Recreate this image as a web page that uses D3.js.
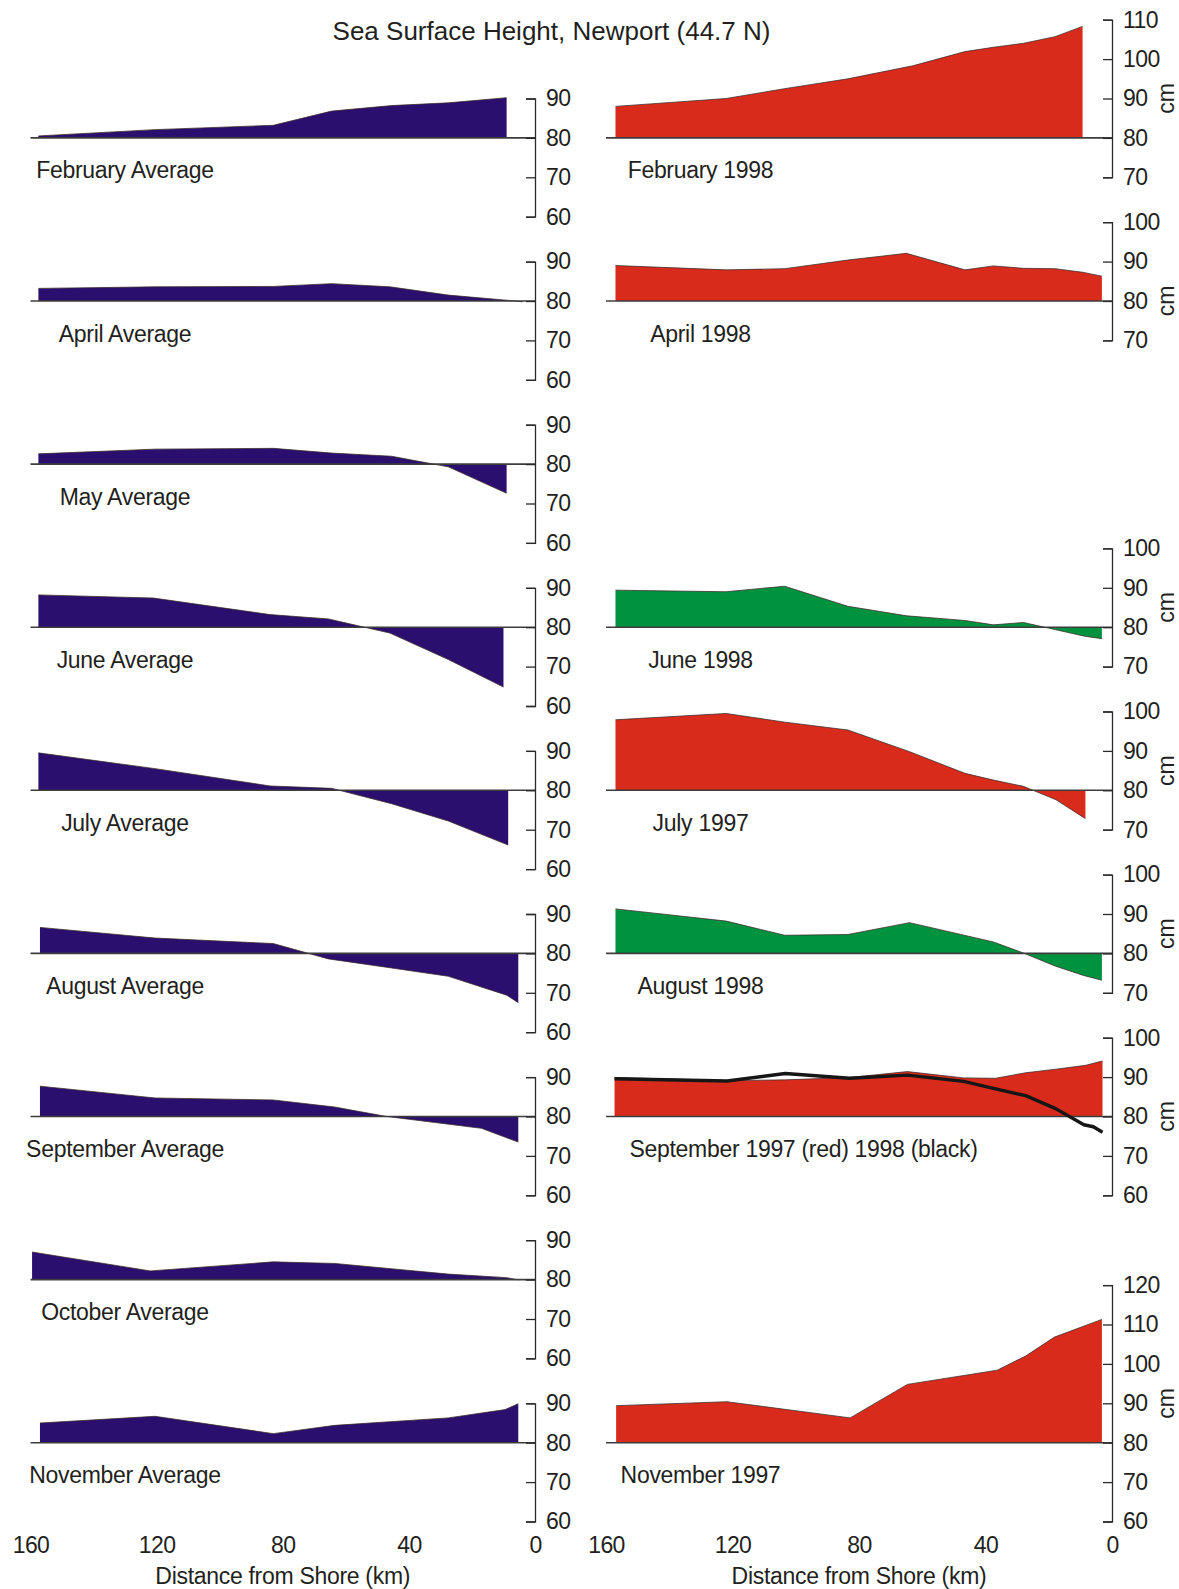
<!DOCTYPE html>
<html>
<head>
<meta charset="utf-8">
<script src="https://cdn.jsdelivr.net/npm/d3@7"></script>
<style>
  html, body { margin: 0; padding: 0; background: #fff; }
  svg text { font-family: "Liberation Sans", Arial, Helvetica, sans-serif; fill: #231f20; }
</style>
</head>
<body>
<svg id="chart" width="1179" height="1589"></svg>
<script>
// Sea surface height (cm) against distance from shore (km), Newport line 44.7 N.
// Each profile: distances (km) and heights (cm).

// Monthly climatology (left column)
const febAvgKm = [157.5, 120.5, 83, 64.5, 45.5, 27.5, 9];
const febAvgCm = [80.5, 82.1, 83.2, 86.8, 88.2, 88.9, 90.2];
const aprAvgKm = [157.5, 120.5, 83, 64.5, 46, 27.5, 9, 4];
const aprAvgCm = [83.2, 83.6, 83.7, 84.4, 83.6, 81.5, 80.2, 79.8];
const mayAvgKm = [157.5, 120.5, 83, 64.5, 45.5, 27.5, 9];
const mayAvgCm = [82.6, 83.8, 84.0, 82.8, 82.0, 79.3, 72.6];
const junAvgKm = [157.5, 121, 84, 65.5, 46, 27.5, 10];
const junAvgCm = [88.2, 87.4, 83.2, 82.1, 78.5, 71.8, 64.8];
const julAvgKm = [157.5, 120.5, 84, 64.5, 45.5, 27.5, 8.5];
const julAvgCm = [89.5, 85.5, 81.1, 80.5, 76.6, 72.2, 66.1];
const augAvgKm = [157, 120.5, 83, 65.5, 45.5, 27.5, 9, 5.3];
const augAvgCm = [86.6, 83.9, 82.5, 78.6, 76.3, 74.2, 69.4, 67.5];
const sepAvgKm = [157, 120.5, 83, 63.5, 47, 17, 5.3];
const sepAvgCm = [87.7, 84.7, 84.2, 82.4, 80.0, 77.0, 73.5];
const octAvgKm = [159.5, 122, 83, 63.5, 27.5, 9, 5];
const octAvgCm = [87.0, 82.2, 84.5, 84.1, 81.4, 80.5, 79.9];
const novAvgKm = [157, 120.5, 83, 63.5, 27.5, 9.5, 5.3];
const novAvgCm = [85.0, 86.7, 82.3, 84.4, 86.3, 88.4, 89.9];

// Individual months, 1997-98 El Nino (right column)
const feb98Km = [157, 122, 103.5, 83.5, 63, 46.5, 37.5, 28, 18, 9.3];
const feb98Cm = [88.0, 90.0, 92.5, 95.0, 98.3, 101.9, 103.0, 104.0, 105.7, 108.3];
const apr98Km = [157, 122, 103.5, 83.5, 65, 46.5, 37.5, 28, 18, 9.3, 3.2];
const apr98Cm = [89.0, 87.9, 88.2, 90.4, 92.1, 87.9, 88.9, 88.3, 88.2, 87.3, 86.3];
const jun98Km = [157, 122, 103.5, 83.5, 65, 46.5, 37.5, 28, 18, 8.6, 3.2];
const jun98Cm = [89.4, 89.0, 90.4, 85.3, 82.9, 81.7, 80.6, 81.2, 79.4, 77.7, 77.1];
const jul97Km = [157, 122, 103.5, 83.5, 64, 46.5, 37.5, 28, 17.7, 8.4];
const jul97Cm = [97.9, 99.5, 97.3, 95.3, 89.8, 84.3, 82.6, 81.0, 77.6, 72.8];
const aug98Km = [157, 122, 103.5, 83.5, 64, 37.5, 28, 18, 9, 3.2];
const aug98Cm = [91.3, 88.2, 84.6, 84.8, 87.8, 82.9, 80.1, 76.8, 74.4, 73.2];
const sep97Km = [157.3, 121.7, 103.3, 83, 64.7, 46.9, 36.8, 27.3, 17.8, 8.3, 3.0];
const sep97Cm = [89.9, 89.1, 89.3, 89.9, 91.4, 89.8, 89.7, 91.1, 92.0, 93.0, 94.1];
const sep98Km = [157.3, 121.7, 103.3, 83, 64.7, 46.9, 36.8, 27.3, 17.8, 8.9, 5.9, 3.0];
const sep98Cm = [89.6, 89.0, 90.9, 89.7, 90.5, 88.9, 87.0, 85.3, 82.0, 77.9, 77.4, 76.0];
const nov97Km = [156.8, 121.8, 82.8, 64.7, 36.3, 27.3, 18.2, 3.2];
const nov97Cm = [89.4, 90.4, 86.3, 94.8, 98.4, 102.0, 106.8, 111.3];

// Axis tick labels
const leftTicks = [60, 70, 80, 90];
const distanceTicks = [160, 120, 80, 40, 0];

const NAVY = "#2b0f6e", RED = "#d92b1b", GREEN = "#00923f";

const zip = (km, cm) => km.map((k, i) => ({ km: k, cm: cm[i] }));

// row: vertical slot (0 = top); col: 0 left, 1 right
const panels = [
  { col: 0, row: 0, label: "February Average", data: zip(febAvgKm, febAvgCm), color: NAVY, ticks: leftTicks },
  { col: 0, row: 1, label: "April Average", data: zip(aprAvgKm, aprAvgCm), color: NAVY, ticks: leftTicks },
  { col: 0, row: 2, label: "May Average", data: zip(mayAvgKm, mayAvgCm), color: NAVY, ticks: leftTicks },
  { col: 0, row: 3, label: "June Average", data: zip(junAvgKm, junAvgCm), color: NAVY, ticks: leftTicks },
  { col: 0, row: 4, label: "July Average", data: zip(julAvgKm, julAvgCm), color: NAVY, ticks: leftTicks },
  { col: 0, row: 5, label: "August Average", data: zip(augAvgKm, augAvgCm), color: NAVY, ticks: leftTicks },
  { col: 0, row: 6, label: "September Average", data: zip(sepAvgKm, sepAvgCm), color: NAVY, ticks: leftTicks },
  { col: 0, row: 7, label: "October Average", data: zip(octAvgKm, octAvgCm), color: NAVY, ticks: leftTicks },
  { col: 0, row: 8, label: "November Average", data: zip(novAvgKm, novAvgCm), color: NAVY, ticks: leftTicks },
  { col: 1, row: 0, label: "February 1998", data: zip(feb98Km, feb98Cm), color: RED, ticks: [70, 80, 90, 100, 110], unitAt: 90 },
  { col: 1, row: 1, label: "April 1998", data: zip(apr98Km, apr98Cm), color: RED, ticks: [70, 80, 90, 100], unitAt: 80 },
  { col: 1, row: 3, label: "June 1998", data: zip(jun98Km, jun98Cm), color: GREEN, ticks: [70, 80, 90, 100], unitAt: 85 },
  { col: 1, row: 4, label: "July 1997", data: zip(jul97Km, jul97Cm), color: RED, ticks: [70, 80, 90, 100], unitAt: 85 },
  { col: 1, row: 5, label: "August 1998", data: zip(aug98Km, aug98Cm), color: GREEN, ticks: [70, 80, 90, 100], unitAt: 85 },
  { col: 1, row: 6, label: "September 1997 (red) 1998 (black)", data: zip(sep97Km, sep97Cm), line: zip(sep98Km, sep98Cm), color: RED, ticks: [60, 70, 80, 90, 100], unitAt: 80, labelStart: true },
  { col: 1, row: 8, label: "November 1997", data: zip(nov97Km, nov97Cm), color: RED, ticks: [60, 70, 80, 90, 100, 110, 120], unitAt: 90 }
];

const svg = d3.select("#chart");
const FONT = 23;

const xScales = [
  d3.scaleLinear().domain([160, 0]).range([30.5, 535]),
  d3.scaleLinear().domain([160, 0]).range([606, 1112])
];
const labelCenter = [125, 700.5];
const labelStartX = 629.5;
const row0 = 137.9, rowStep = 163.1, pxPerCm = 3.94, REF = 80;

// title
svg.append("text")
  .attr("x", 551.5).attr("y", 30.5)
  .attr("dy", "0.35em")
  .attr("text-anchor", "middle")
  .style("font-size", "26px")
  .text("Sea Surface Height, Newport (44.7 N)");

panels.forEach(p => {
  const x = xScales[p.col];
  const base = row0 + p.row * rowStep;
  const lo = d3.min(p.ticks), hi = d3.max(p.ticks);
  const y = d3.scaleLinear()
    .domain([lo, hi])
    .range([base + (REF - lo) * pxPerCm, base - (hi - REF) * pxPerCm]);

  const g = svg.append("g");

  const area = d3.area()
    .x(d => x(d.km))
    .y0(y(REF))
    .y1(d => y(d.cm));
  const top = d3.line()
    .x(d => x(d.km))
    .y(d => y(d.cm));

  g.append("path")
    .datum(p.data)
    .attr("d", area)
    .attr("fill", p.color);
  g.append("path")
    .datum(p.data)
    .attr("d", top)
    .attr("fill", "none")
    .attr("stroke", "#3a2a2a")
    .attr("stroke-opacity", 0.75)
    .attr("stroke-width", 1);

  // 80 cm reference line across the panel
  g.append("line")
    .attr("x1", x(160)).attr("x2", x(0))
    .attr("y1", y(REF)).attr("y2", y(REF))
    .attr("stroke", "#3d3d3d")
    .attr("stroke-width", 1.6);

  if (p.line) {
    g.append("path")
      .datum(p.line)
      .attr("d", top)
      .attr("fill", "none")
      .attr("stroke", "#161616")
      .attr("stroke-width", 3.4)
      .attr("stroke-linejoin", "round");
  }

  // height axis at the shoreline
  const axis = g.append("g")
    .attr("transform", `translate(${x(0)},0)`)
    .call(d3.axisRight(y)
      .tickValues(p.ticks)
      .tickFormat(d3.format("d"))
      .tickSizeInner(-9)
      .tickSizeOuter(-9)
      .tickPadding(11));
  axis.attr("font-family", null).attr("font-size", null);
  axis.selectAll("path, line").attr("stroke", "#2a2a2a").attr("stroke-width", 1.3);
  axis.selectAll("text").style("font-size", FONT + "px").attr("letter-spacing", "-0.6");

  if (p.unitAt !== undefined) {
    g.append("text")
      .attr("transform", `translate(1166,${y(p.unitAt)}) rotate(-90)`)
      .attr("dy", "0.35em")
      .attr("text-anchor", "middle")
      .style("font-size", FONT + "px")
      .text("cm");
  }

  g.append("text")
    .attr("x", p.labelStart ? labelStartX : labelCenter[p.col])
    .attr("y", base + 32.5)
    .attr("dy", "0.35em")
    .attr("text-anchor", p.labelStart ? "start" : "middle")
    .attr("letter-spacing", "-0.3")
    .style("font-size", FONT + "px")
    .text(p.label);
});

// distance axes along the bottom
xScales.forEach(x => {
  const ax = svg.append("g")
    .attr("transform", "translate(0,1529)")
    .call(d3.axisBottom(x)
      .tickValues(distanceTicks)
      .tickFormat(d3.format("d"))
      .tickSize(0)
      .tickPadding(8));
  ax.attr("font-family", null).attr("font-size", null);
  ax.select(".domain").remove();
  ax.selectAll("text").style("font-size", FONT + "px").attr("letter-spacing", "-0.6");

  svg.append("text")
    .attr("x", (x(160) + x(0)) / 2 + braceShift(x))
    .attr("y", 1575.5)
    .attr("dy", "0.35em")
    .attr("text-anchor", "middle")
    .attr("letter-spacing", "-0.3")
    .style("font-size", FONT + "px")
    .text("Distance from Shore (km)");
});

function braceShift(x) { return x(80) - (x(160) + x(0)) / 2; }
</script>
</body>
</html>
